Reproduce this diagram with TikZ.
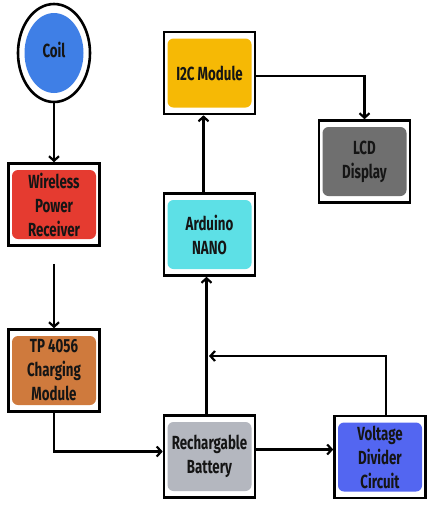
\documentclass[tikz,border=0pt]{standalone}
\usepackage{fontspec}
\setmainfont{Fira Sans}[FakeStretch=0.7]
\usetikzlibrary{arrows.meta,shapes.geometric}
\definecolor{coilblue}{HTML}{3F7FE6}
\definecolor{wred}{HTML}{E53B30}
\definecolor{i2cyel}{HTML}{F6B905}
\definecolor{lcdgray}{HTML}{6F6F6F}
\definecolor{ardcyan}{HTML}{5DE0E6}
\definecolor{tpbrown}{HTML}{CF7A3D}
\definecolor{batgray}{HTML}{B4B7BF}
\definecolor{vdblue}{HTML}{5366F1}
\definecolor{ink}{HTML}{151515}
\begin{document}
\begin{tikzpicture}[x=1pt,y=-1pt,
  lab/.style={font=\fontsize{19}{24}\selectfont\bfseries, text=ink},
  outer/.style={draw, line width=2.6pt, minimum width=91pt, minimum height=82pt, inner sep=0pt},
  inner/.style={lab, rounded corners=6pt, minimum width=84pt, minimum height=69pt, align=center,
     inner sep=0pt},
  conn/.style={line width=2.2pt, -{Straight Barb[length=4.5pt,width=10pt]}}
]
\useasboundingbox (0,0) rectangle (435,509);
\fill[white] (0,0) rectangle (435,509);

% Coil
\node[draw, line width=2.6pt, ellipse, minimum width=72pt, minimum height=98pt, inner sep=0pt] (coil) at (54,53) {};
\node[lab, fill=coilblue, ellipse, minimum width=59pt, minimum height=80pt, inner sep=0pt] (coilin) at (54,53) {\raisebox{6pt}{Coil}};

% Boxes
\node[outer] (wpr) at (54,204.5) {};
\node[inner, fill=wred] (wprin) at (54,204.5) {Wireless\\Power\\Receiver};

\node[outer] (tp) at (54,370.5) {};
\node[inner, fill=tpbrown] (tpin) at (54,370.5) {TP 4056\\Charging\\Module};

\node[outer] (i2c) at (209.5,73) {};
\node[inner, fill=i2cyel] (i2cin) at (209.5,73) {I2C Module};

\node[outer] (ard) at (209.5,234.5) {};
\node[inner, fill=ardcyan] (ardin) at (209.5,234.5) {Arduino\\NANO};

\node[outer] (bat) at (209.5,456.5) {};
\node[inner, fill=batgray] (batin) at (209.5,456.5) {Rechargable\\Battery};

\node[outer] (lcd) at (364.5,161.5) {};
\node[inner, fill=lcdgray] (lcdin) at (364.5,161.5) {LCD\\Display};

\node[outer] (vd) at (380,457) {};
\node[inner, fill=vdblue] (vdin) at (380,457) {Voltage\\Divider\\Circuit};

% Connectors
\draw[conn] (coil.south) -- (wpr.north);
\draw[conn, shorten <=17pt] (wpr.south) -- (tp.north);
\draw[conn] (tp.south) |- ([yshift=5pt]bat.west);
\draw[conn] ([xshift=-3pt]bat.north) -- ([xshift=-3pt]ard.south);
\draw[conn] ([xshift=-6pt]ard.north) -- ([xshift=-6pt]i2c.south);
\draw[conn] ([yshift=-3pt]i2c.east) -| (lcd.north);
\draw[conn] ([yshift=7pt]bat.east) -- ([yshift=7pt]bat.east -| vd.west);
\coordinate (junc) at (209,356);
\draw[conn] ([xshift=6pt]vd.north) |- (junc);
\end{tikzpicture}
\end{document}
